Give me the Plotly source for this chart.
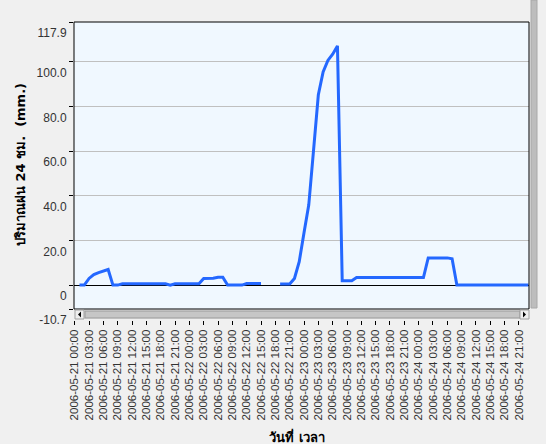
import plotly.graph_objects as go
import pandas as pd

# ---- data (hourly 24-h accumulated rainfall, mm) ----
start_time = "2006-05-21 01:00"
end_time = "2006-05-24 23:00"
rain_24h = [
    0, 0, 3.0, 4.7, 5.6, 6.3, 7.0, 0, 0,
    0.6, 0.6, 0.6, 0.6, 0.6, 0.6, 0.6, 0.6, 0.6, 0.6,
    0,
    0.6, 0.6, 0.6, 0.6, 0.6, 0.6,
    3.0, 3.0, 3.1, 3.5, 3.5,
    0, 0, 0, 0,
    0.7, 0.7, 0.7, 0.7,
    None, None, None,
    0.5, 0.5, 0.5,
    3.0, 10.5, 23.5, 36.0, 60.5, 85.3, 95.5, 100.7, 103.5, 107.2,
    2.0, 2.0, 2.0,
    3.4, 3.4, 3.4, 3.4, 3.4, 3.4, 3.4, 3.4, 3.4, 3.4, 3.4, 3.4, 3.4, 3.4, 3.4,
    12.2, 12.2, 12.2, 12.2, 12.2,
    11.8,
    0, 0, 0, 0, 0, 0, 0, 0, 0, 0, 0, 0, 0, 0, 0, 0,
]
times = pd.date_range(start_time, end_time, freq="h")

y_tick_vals = [-10.7, 0, 20, 40, 60, 80, 100, 117.9]
y_tick_text = ["-10.7", "0", "20.0", "40.0", "60.0", "80.0", "100.0", "117.9"]
x_ticks = pd.date_range("2006-05-21 00:00", "2006-05-24 21:00", freq="3h")
x_tick_text = [t.strftime("%Y-%m-%d %H:%M") for t in x_ticks]

y_title = "ปริมาณฝน 24 ชม.  (mm.)"
x_title = "วันที่ เวลา"

# ---- layout geometry (pixels) ----
W, H = 546, 444
L, R, T, B = 74, 529, 22, 320
DATA_BOTTOM = 309


def px(x):
    return (x - L) / (R - L)


def py(y):
    return (B - y) / (B - T)


fig = go.Figure()
fig.add_trace(go.Scatter(
    x=times, y=rain_24h, mode="lines",
    line=dict(color="#2468FF", width=3),
    connectgaps=False, showlegend=False, hoverinfo="x+y",
))

shapes = []
# data area background and border
shapes.append(dict(type="rect", xref="x domain", yref="y domain", x0=0, x1=1, y0=0, y1=1,
                   fillcolor="#F0F8FF", line=dict(width=0), layer="below"))
shapes.append(dict(type="rect", xref="x domain", yref="y domain", x0=0, x1=1, y0=0, y1=1,
                   fillcolor="rgba(0,0,0,0)", line=dict(color="black", width=1), layer="above"))


def prect(x0, y0, x1, y1, fill, line=None, lw=1):
    return dict(type="rect", xref="paper", yref="paper",
                x0=px(x0), x1=px(x1), y0=py(y1), y1=py(y0),
                fillcolor=fill, line=dict(color=line or fill, width=lw if line else 0),
                layer="above")


# horizontal scrollbar
shapes.append(prect(75, 310, 529, 319, "#E4E4E4"))
shapes.append(prect(85, 311, 520, 318, "#C6C6C6", "#9A9A9A"))
shapes.append(prect(75, 310, 84, 319, "#EEEEEE", "#A0A0A0"))
shapes.append(prect(520, 310, 529, 319, "#EEEEEE", "#A0A0A0"))
shapes.append(dict(type="path", xref="paper", yref="paper",
                   path=f"M {px(78)} {py(314.5)} L {px(81)} {py(311.5)} L {px(81)} {py(317.5)} Z",
                   fillcolor="black", line=dict(width=0), layer="above"))
shapes.append(dict(type="path", xref="paper", yref="paper",
                   path=f"M {px(526)} {py(314.5)} L {px(523)} {py(311.5)} L {px(523)} {py(317.5)} Z",
                   fillcolor="black", line=dict(width=0), layer="above"))
# vertical strip at right
shapes.append(prect(531, 0, 537, 308, "#BDBDBD", "#A8A8A8"))

y_tick_font = dict(family="Liberation Sans, Arial", size=12, color="#333333")
x_tick_font = dict(family="Liberation Sans, Arial", size=11.5, color="#333333")
title_font = dict(family="Tahoma, DejaVu Sans, Noto Sans, sans-serif", size=13, color="black")

fig.update_layout(
    width=W, height=H,
    margin=dict(l=L, r=W - R, t=T, b=H - B, autoexpand=False),
    paper_bgcolor="#F0F0F0", plot_bgcolor="#F0F0F0",
    shapes=shapes,
    xaxis=dict(
        type="date",
        range=["2006-05-20 23:51", "2006-05-24 23:06"],
        anchor="free", position=0, automargin=False,
        tickvals=x_ticks, ticktext=x_tick_text, tickangle=-90,
        ticks="outside", ticklen=4, tickcolor="black",
        showgrid=False, showline=False, zeroline=False,
        tickfont=x_tick_font,
    ),
    yaxis=dict(
        domain=[(B - DATA_BOTTOM) / (B - T), 1],
        range=[-10.7, 117.9], automargin=False,
        tickvals=y_tick_vals, ticktext=y_tick_text,
        ticks="outside", ticklen=4, tickcolor="black",
        showgrid=True, gridcolor="#C0C0C0", gridwidth=1,
        zeroline=True, zerolinecolor="black", zerolinewidth=1,
        showline=False,
        ticklabelshift=11,
        tickfont=y_tick_font,
    ),
    annotations=[
        dict(text=f"<b>{y_title}</b>", xref="paper", yref="paper", x=px(20), y=py(165),
             textangle=-90, showarrow=False, xanchor="center", yanchor="middle",
             font=title_font),
        dict(text=f"<b>{x_title}</b>", xref="paper", yref="paper", x=px(297), y=py(436),
             showarrow=False, xanchor="center", yanchor="middle",
             font=title_font),
    ],
)

fig.write_html(
    "out.html",
    config={"displayModeBar": False},
    post_script="document.body.style.margin='0';document.body.style.overflow='hidden';",
)
